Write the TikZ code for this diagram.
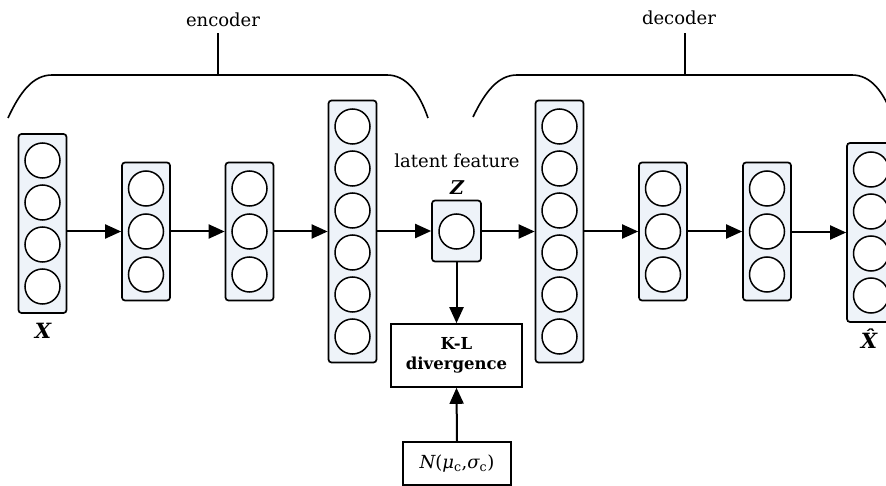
\documentclass[tikz,border=0pt]{standalone}
\usepackage{amsmath}
\usepackage{fontspec}
\setmainfont{DejaVu Serif}
\usetikzlibrary{arrows.meta}
\definecolor{boxfill}{HTML}{EEF3F9}
\tikzset{
  layer/.style={draw=black, line width=1.7pt, rounded corners=3pt, fill=boxfill,
    minimum width=48pt, inner sep=0pt},
  neuron/.style={circle, draw=black, line width=1.5pt, fill=white,
    minimum size=35pt, inner sep=0pt},
  arr/.style={line width=2pt, -{Triangle[length=16pt,width=14pt]}},
  brace/.style={line width=1.6pt},
  lbl/.style={font=\fontsize{18}{22}\selectfont, inner sep=0pt},
  varlbl/.style={font=\fontsize{21}{24}\selectfont\bfseries\itshape, inner sep=0pt},
  plainbox/.style={draw=black, line width=1.6pt, fill=white, inner sep=0pt},
}
\begin{document}
\begin{tikzpicture}[x=1pt,y=-1pt]
\useasboundingbox (0,0) rectangle (886,486);
% braces
\draw[brace] (8,118) .. controls (20,92) and (33,75) .. (52,75) -- (387,75)
  .. controls (406,75) and (419,92) .. (428,118);
\draw[brace] (218,75) -- (218,33);
\node[lbl] (enc) at (223,20) {encoder};
\draw[brace] (473,117) .. controls (485,92) and (498,75) .. (517,75) -- (852,75)
  .. controls (871,75) and (884,92) .. (893,118);
\draw[brace] (685,75) -- (685,33);
\node[lbl] (dec) at (679,18) {decoder};
% layers
\node[layer, minimum height=179pt] (L1) at (42.5,223.5) {};
\foreach \i in {1,...,4} \node[neuron] (L1c\i) at (42.5,{223.5+(\i-2.5)*42}) {};
\node[layer, minimum height=138pt] (L2) at (146,231.5) {};
\foreach \i in {1,...,3} \node[neuron] (L2c\i) at (146,{231.5+(\i-2)*43}) {};
\node[layer, minimum height=138pt] (L3) at (249.5,231.5) {};
\foreach \i in {1,...,3} \node[neuron] (L3c\i) at (249.5,{231.5+(\i-2)*43}) {};
\node[layer, minimum height=262pt] (L4) at (352.5,231.5) {};
\foreach \i in {1,...,6} \node[neuron] (L4c\i) at (352.5,{231.5+(\i-3.5)*42}) {};
\node[layer, minimum height=61pt, minimum width=49pt] (Z) at (456.5,231) {};
\node[neuron] (Zc) at (456.5,231.5) {};
\node[layer, minimum height=262pt] (L5) at (559.5,231.5) {};
\foreach \i in {1,...,6} \node[neuron] (L5c\i) at (559.5,{231.5+(\i-3.5)*42}) {};
\node[layer, minimum height=138pt] (L6) at (663,231.5) {};
\foreach \i in {1,...,3} \node[neuron] (L6c\i) at (663,{231.5+(\i-2)*43}) {};
\node[layer, minimum height=138pt] (L7) at (767,231.5) {};
\foreach \i in {1,...,3} \node[neuron] (L7c\i) at (767,{231.5+(\i-2)*43}) {};
\node[layer, minimum height=179pt] (L8) at (871,232.5) {};
\foreach \i in {1,...,4} \node[neuron] (L8c\i) at (871,{232.5+(\i-2.5)*42}) {};
% labels
\node[lbl] (lat) at (457,161) {latent feature};
\node[varlbl, font=\fontsize{19}{22}\selectfont\bfseries\itshape] (zl) at (457,188) {Z};
\node[varlbl] (xl) at (43,331) {X};
\node[varlbl] (xh) at (869,339) {\^X};
% KL and prior
\node[plainbox, minimum width=131pt, minimum height=63pt, align=center,
  font=\fontsize{16.5}{19.5}\selectfont\bfseries] (KL) at (456.5,355.5) {K-L\\divergence};
\node[plainbox, minimum width=108pt, minimum height=43pt,
  font=\fontsize{18}{22}\selectfont] (N) at (457,463.5)
  {{\itshape N}({\itshape μ}\textsubscript{c},{\itshape σ}\textsubscript{c})};
% arrows
\draw[arr] (L1.east |- L2.west) -- (L2.west);
\draw[arr] (L2.east |- L3.west) -- (L3.west);
\draw[arr] (L3.east |- L4.west) -- (L4.west);
\draw[arr] (L4.east |- Z.west) -- (Z.west);
\draw[arr] (Z.east |- L5.west) -- (L5.west);
\draw[arr] (L5.east |- L6.west) -- (L6.west);
\draw[arr] (L6.east |- L7.west) -- (L7.west);
\draw[arr] (L7.east |- L8.west) -- (L8.west);
\draw[arr] (Z.south) -- (KL.north);
\draw[arr] (N.north) -- (KL.south);
\end{tikzpicture}
\end{document}
